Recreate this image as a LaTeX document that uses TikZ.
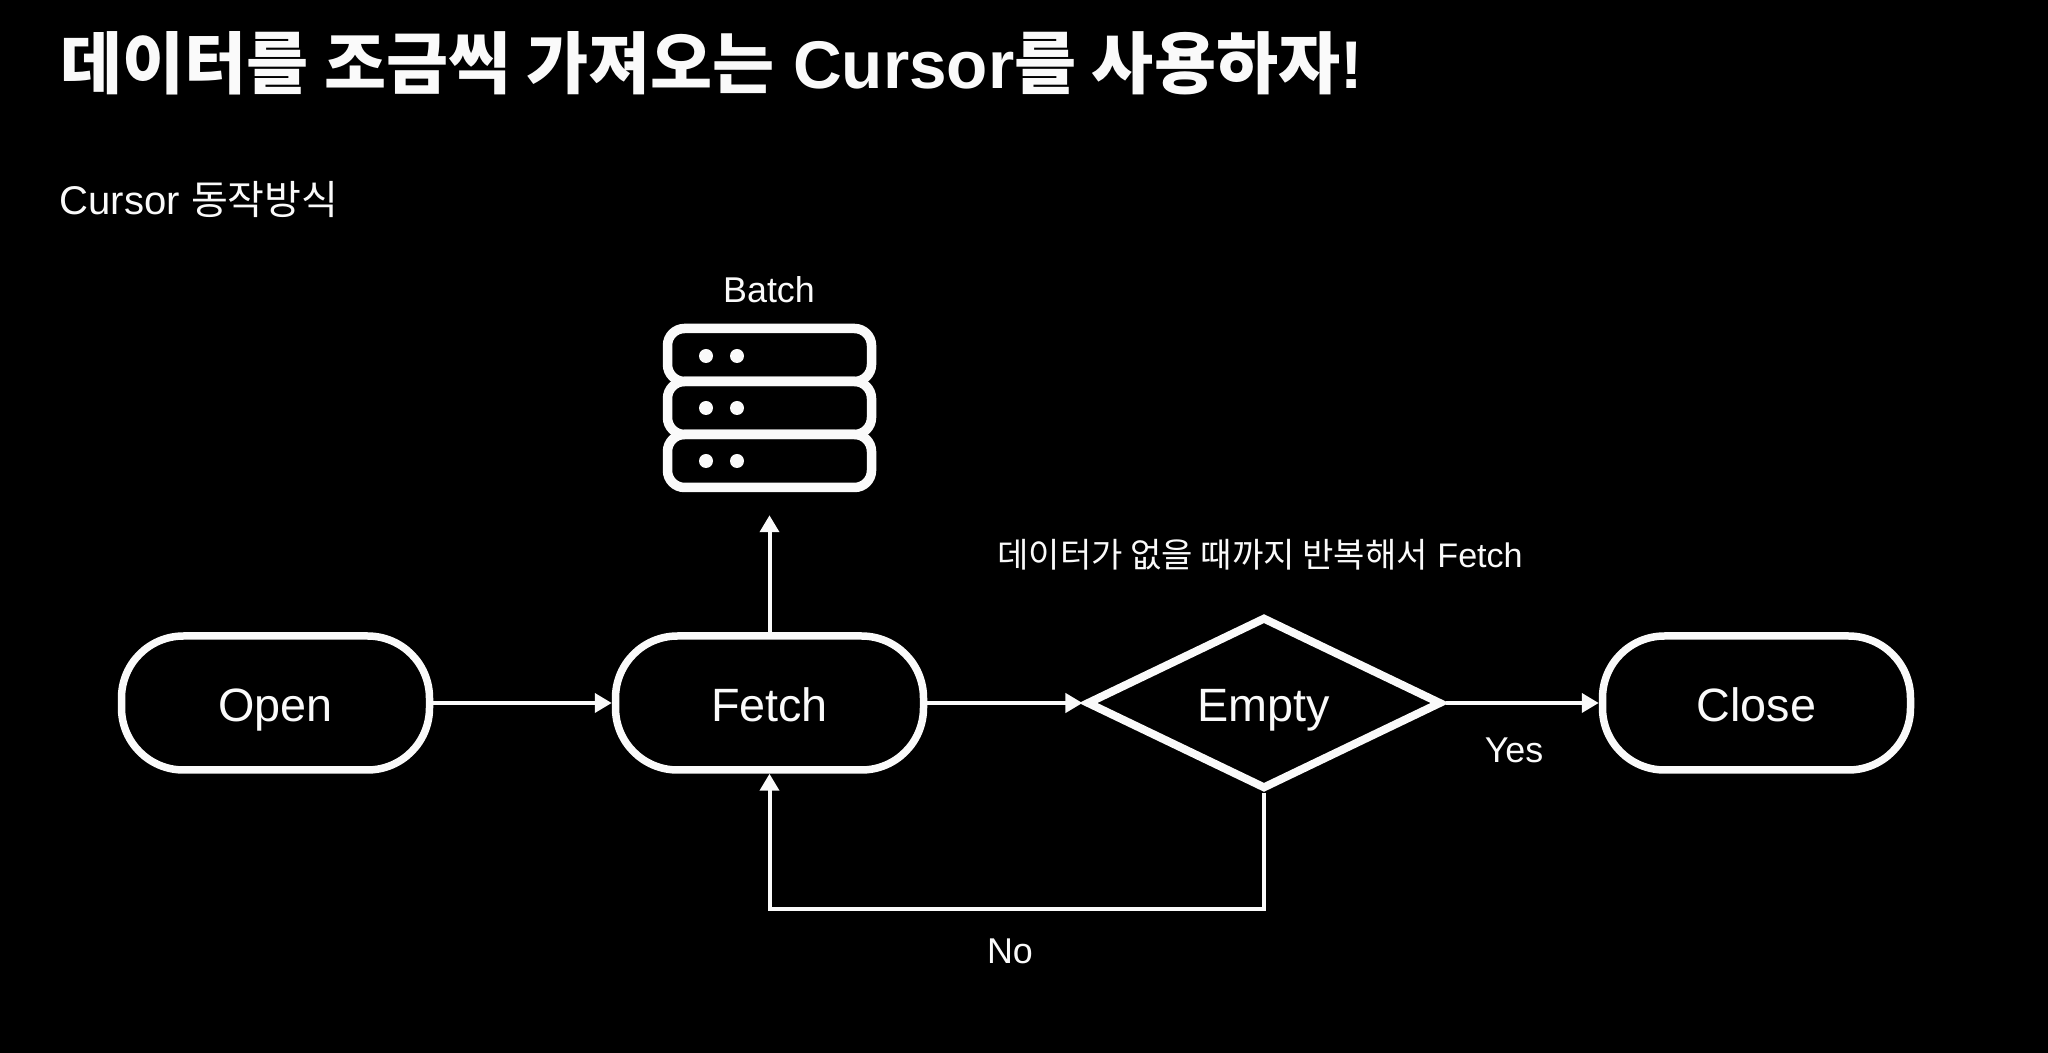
\documentclass[tikz,border=0pt]{standalone}
\usepackage{fontspec}
\setmainfont{Liberation Sans}
\newfontfamily\krfont{Noto Sans CJK KR}
\usetikzlibrary{arrows.meta, shapes.geometric}
\definecolor{ink}{HTML}{FAFAFA}

\begin{document}
\begin{tikzpicture}[
  pill/.style={rectangle, draw=ink, line width=0.075cm, rounded corners=0.62cm,
               minimum width=3.08cm, minimum height=1.34cm, inner sep=0pt,
               text height=0.45cm, text depth=0.07cm,
               text=ink, font=\fontsize{13.3}{16}\selectfont},
  decision/.style={diamond, draw=ink, line width=0.08cm, aspect=2.05,
                   minimum width=3.55cm, minimum height=1.72cm, inner sep=0pt,
                   text height=0.45cm, text depth=0.07cm,
                   text=ink, font=\fontsize{13.3}{16}\selectfont},
  flow/.style={draw=ink, line width=0.04cm, -{Triangle[length=0.17cm, width=0.19cm]}},
  rack/.style={rectangle, draw=ink, line width=0.095cm, rounded corners=0.17cm,
               minimum width=2.04cm, minimum height=0.53cm, inner sep=0pt},
  led/.style={circle, fill=ink, minimum size=0.14cm, inner sep=0pt},
  title/.style={text=ink, anchor=west, inner sep=0pt, font=\fontsize{19.2}{22}\selectfont\bfseries},
  caption/.style={text=ink, font=\fontsize{10.2}{12}\selectfont},
]

\fill[black] (0, 0) rectangle (20.48, 10.53);
\useasboundingbox (0, 0) rectangle (20.48, 10.53);

\node[title] (head) at (0.60, 9.90) {{\krfont\bfseries 데이터를 조금씩 가져오는} Cursor{\krfont\bfseries 를 사용하자}!};
\node[caption, anchor=west, inner sep=0pt, font=\fontsize{11.4}{14}\selectfont] (sub) at (0.59, 8.53) {Cursor {\krfont 동작방식}};

\node[pill] (open) at (2.755, 3.50) {Open};
\node[pill] (fetch) at (7.695, 3.50) {Fetch};
\node[decision] (empty) at (12.64, 3.50) {Empty};
\node[pill] (close) at (17.565, 3.50) {Close};

\node[rack] (row1) at (7.695, 6.98) {};
\node[rack] (row2) at (7.695, 6.45) {};
\node[rack] (row3) at (7.695, 5.92) {};

\node[led] (d1a) at (7.06, 6.97) {};
\node[led] (d1b) at (7.37, 6.97) {};
\node[led] (d2a) at (7.06, 6.45) {};
\node[led] (d2b) at (7.37, 6.45) {};
\node[led] (d3a) at (7.06, 5.92) {};
\node[led] (d3b) at (7.37, 5.92) {};

\node[caption] (batch) at (7.69, 7.63) {Batch};
\node[caption, font=\fontsize{9.7}{12}\selectfont] (repeat) at (12.60, 4.98) {{\krfont 데이터가 없을 때까지 반복해서} Fetch};
\node[caption] (yes) at (15.14, 3.03) {Yes};
\node[caption] (no) at (10.10, 1.02) {No};

\coordinate (turn) at (7.695, 1.44);

\draw[flow] (open) -- (fetch);
\draw[flow] (fetch) -- (empty);
\draw[flow] (empty) -- (close);
\draw[flow, shorten >=0.23cm] (fetch.north) -- (row3.south);
\draw[flow] (empty.south) |- (turn) -- (fetch.south);

\end{tikzpicture}
\end{document}
